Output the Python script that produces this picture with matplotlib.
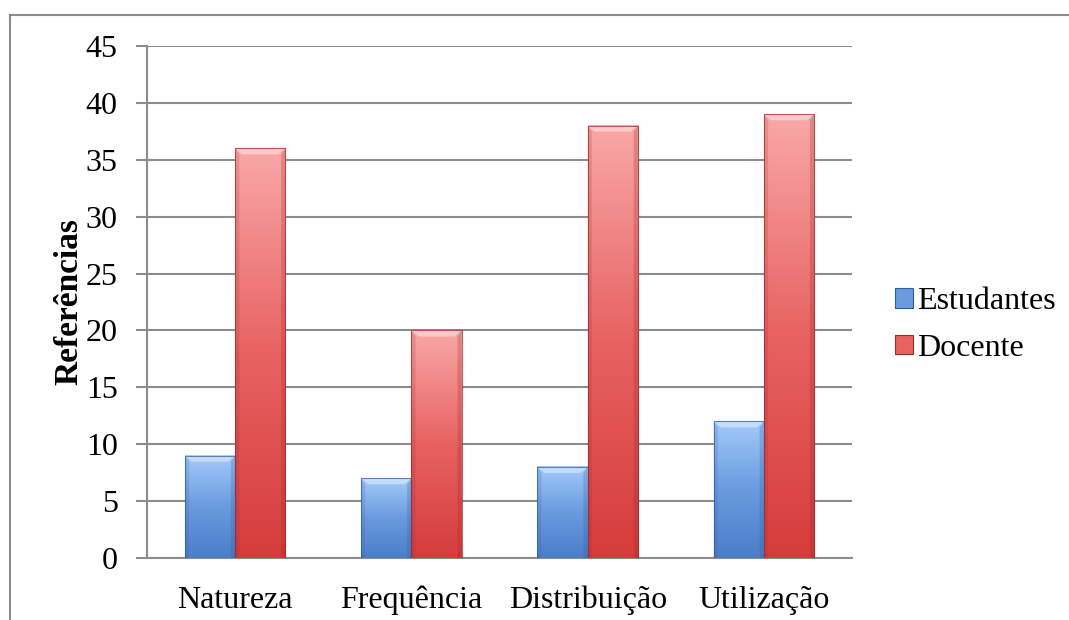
import matplotlib

matplotlib.use("Agg")
import matplotlib.pyplot as plt
import numpy as np
from matplotlib.colors import LinearSegmentedColormap
from matplotlib.lines import Line2D
from matplotlib.patches import Patch, Polygon

categories = ["Natureza", "Frequência", "Distribuição", "Utilização"]
estudantes = [9, 7, 8, 12]
docente = [36, 20, 38, 39]
series_names = ["Estudantes", "Docente"]

plt.rcParams["font.family"] = ["Liberation Serif", "DejaVu Serif"]

blue_cmap = LinearSegmentedColormap.from_list("blue", ["#4a7ec8", "#6a9be0", "#a3c9fa"])
red_cmap = LinearSegmentedColormap.from_list("red", ["#d63c3c", "#e86262", "#f9a8a8"])

W, H = 1069, 620
fig = plt.figure(figsize=(W / 100, H / 100), dpi=100)
ax = fig.add_axes([147 / W, 62 / H, 705 / W, 512 / H])

# chart frame, clipped at the right and bottom edges
fig.add_artist(Line2D([10 / W, 1.0], [1 - 15 / H] * 2, color="#8c8c8c", lw=1.5,
                      transform=fig.transFigure))
fig.add_artist(Line2D([10 / W] * 2, [0.0, 1 - 15 / H], color="#8c8c8c", lw=1.5,
                      transform=fig.transFigure))

x = np.arange(len(categories))
bw = 0.285
grad = np.linspace(0, 1, 256).reshape(-1, 1)


def draw_bar(x0, h, cmap, edge):
    x1 = x0 + bw
    ax.imshow(grad, extent=[x0, x1, 0, h], origin="lower", aspect="auto",
              cmap=cmap, zorder=3, interpolation="bicubic")
    # bevel on the top face and darker sides
    dy = 45 * 6 / 512
    dx = bw * 7 / 50
    ax.add_patch(Polygon([[x0, h], [x1, h], [x1 - dx, h - dy], [x0 + dx, h - dy]],
                         closed=True, facecolor="white", alpha=0.4, lw=0, zorder=4))
    ax.add_patch(Polygon([[x0, 0], [x0 + dx * 0.6, 0], [x0 + dx * 0.6, h - dy], [x0, h]],
                         closed=True, facecolor=edge, alpha=0.18, lw=0, zorder=4))
    ax.add_patch(Polygon([[x1, 0], [x1 - dx * 0.6, 0], [x1 - dx * 0.6, h - dy], [x1, h]],
                         closed=True, facecolor=edge, alpha=0.25, lw=0, zorder=4))
    ax.add_patch(plt.Rectangle((x0, 0), bw, h, fill=False, edgecolor=edge,
                               lw=0.8, alpha=0.7, zorder=5))


for i in range(len(categories)):
    draw_bar(x[i] - bw, estudantes[i], blue_cmap, "#2f5d9c")
    draw_bar(x[i], docente[i], red_cmap, "#a02828")

ax.set_xlim(-0.5, len(categories) - 0.5)
ax.set_ylim(0, 45)
ax.set_yticks(np.arange(0, 46, 5))
ax.set_xticks(x)
ax.set_xticklabels(categories, fontsize=23)
ax.tick_params(axis="y", labelsize=23, length=8, width=1.5, color="#8c8c8c",
               direction="out", pad=13)
ax.tick_params(axis="x", length=0, pad=20)
ax.yaxis.grid(True, color="#8c8c8c", lw=1.5, zorder=0)
ax.set_axisbelow(True)
for side in ["top", "right"]:
    ax.spines[side].set_visible(False)
ax.spines["left"].set_color("#8c8c8c")
ax.spines["left"].set_linewidth(1.5)
ax.spines["bottom"].set_color("#8c8c8c")
ax.spines["bottom"].set_linewidth(1.5)
ax.set_ylabel("Referências", fontsize=24, fontweight="bold", labelpad=1)

handles = [Patch(facecolor="#6a9be0", edgecolor="#2f5d9c", lw=0.8),
           Patch(facecolor="#e86262", edgecolor="#a02828", lw=0.8)]
fig.legend(handles, series_names, loc="center left", bbox_to_anchor=(895 / W, 1 - 325 / H),
           frameon=False, fontsize=23, handlelength=0.55, handleheight=0.55,
           handletextpad=0.15, labelspacing=0.55, borderaxespad=0, borderpad=0)

fig.savefig("out.png", dpi=100)
